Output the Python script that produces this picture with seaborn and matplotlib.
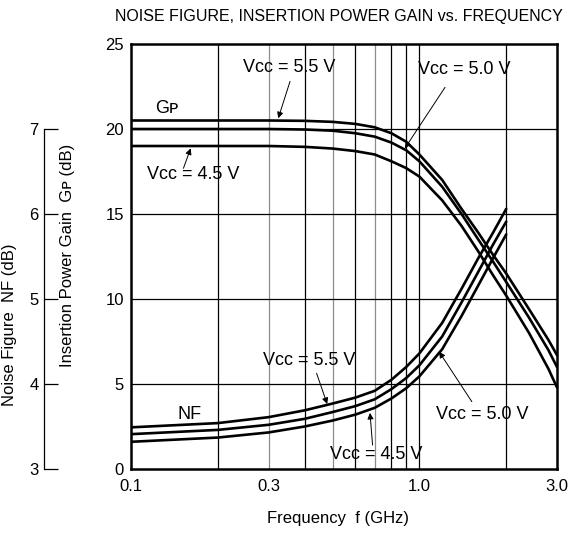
import numpy as np
import pandas as pd
import matplotlib
matplotlib.use("Agg")
import matplotlib.pyplot as plt
import seaborn as sns

# Insertion power gain Gp (dB) vs frequency (GHz)
gain_freq = [0.1, 0.2, 0.3, 0.4, 0.5, 0.6, 0.7, 0.8, 0.9, 1.0, 1.2, 1.4, 1.6, 1.8, 2.0, 2.4, 2.8, 3.0]
gain_55 = [20.5, 20.5, 20.5, 20.48, 20.42, 20.3, 20.1, 19.75, 19.25, 18.5, 17.0, 15.3, 13.9, 12.6, 11.5, 9.4, 7.6, 6.7]
gain_50 = [20.0, 20.0, 20.0, 19.97, 19.9, 19.75, 19.55, 19.2, 18.75, 18.1, 16.6, 15.0, 13.5, 12.2, 11.0, 8.9, 7.0, 6.0]
gain_45 = [19.0, 19.0, 19.0, 18.95, 18.85, 18.7, 18.5, 18.1, 17.7, 17.2, 15.8, 14.3, 12.8, 11.4, 10.2, 8.0, 5.9, 4.8]

# Noise figure NF (dB) vs frequency (GHz)
nf_freq = [0.1, 0.2, 0.3, 0.4, 0.5, 0.6, 0.7, 0.8, 0.9, 1.0, 1.2, 1.4, 1.6, 1.8, 2.0]
nf_55 = [3.49, 3.54, 3.61, 3.69, 3.77, 3.84, 3.92, 4.05, 4.20, 4.36, 4.72, 5.12, 5.48, 5.78, 6.06]
nf_50 = [3.41, 3.46, 3.52, 3.59, 3.67, 3.74, 3.82, 3.94, 4.07, 4.22, 4.56, 4.96, 5.32, 5.64, 5.91]
nf_45 = [3.32, 3.37, 3.43, 3.50, 3.57, 3.64, 3.72, 3.83, 3.95, 4.09, 4.41, 4.80, 5.16, 5.48, 5.76]

x_ticks = [0.1, 0.3, 1.0, 3.0]
x_ticklabels = ["0.1", "0.3", "1.0", "3.0"]
grid_freq = [0.2, 0.3, 0.4, 0.5, 0.6, 0.7, 0.8, 0.9, 1.0, 2.0]
gray_grid = [0.3, 0.5, 0.7]
gain_ticks = [0, 5, 10, 15, 20, 25]
nf_ticks = [3, 4, 5, 6, 7]

gain_df = pd.DataFrame({
    "freq": gain_freq * 3,
    "gain": gain_55 + gain_50 + gain_45,
    "vcc": ["5.5"] * len(gain_freq) + ["5.0"] * len(gain_freq) + ["4.5"] * len(gain_freq),
})
nf_df = pd.DataFrame({
    "freq": nf_freq * 3,
    "nf": nf_55 + nf_50 + nf_45,
    "vcc": ["5.5"] * len(nf_freq) + ["5.0"] * len(nf_freq) + ["4.5"] * len(nf_freq),
})

sns.set_theme(style="white")
plt.rcParams["font.family"] = ["Liberation Sans", "DejaVu Sans"]
plt.rcParams["text.color"] = "black"

fig = plt.figure(figsize=(5.72, 5.35), dpi=100)
ax = fig.add_axes([131 / 572, 66 / 535, 426 / 572, 425 / 535])
ax.set_xscale("log")
ax.set_xlim(0.1, 3.0)
ax.set_ylim(0, 25)

# grid
for f in grid_freq:
    ax.axvline(f, color="0.55" if f in gray_grid else "black", lw=0.9, zorder=1)
for g in gain_ticks[1:-1]:
    ax.axhline(g, color="black", lw=0.9, zorder=1)

sns.lineplot(data=gain_df, x="freq", y="gain", hue="vcc", palette=["black"] * 3,
             legend=False, ax=ax, linewidth=1.9, zorder=3)

ax.set_yticks(gain_ticks)
ax.tick_params(axis="both", length=0, labelsize=12, colors="black")
ax.tick_params(axis="y", pad=5)
ax.tick_params(axis="x", pad=7)
for s in ax.spines.values():
    s.set_linewidth(1.8)
    s.set_color("black")

ax.set_xlabel("Frequency  f (GHz)", fontsize=12, color="black")
ax.xaxis.set_label_coords(0.486, -0.1)
ax.set_ylabel("Insertion Power Gain  Gᴘ (dB)", fontsize=12, color="black")
ax.yaxis.set_label_coords(-0.131, 0.5035)

# noise figure axis on the far left
ax2 = ax.twinx()
ax2.set_ylim(3, 8)
sns.lineplot(data=nf_df, x="freq", y="nf", hue="vcc", palette=["black"] * 3,
             legend=False, ax=ax2, linewidth=1.9)
ax2.yaxis.tick_left()
ax2.yaxis.set_label_position("left")
for name in ["top", "right", "bottom"]:
    ax2.spines[name].set_visible(False)
ax2.spines["left"].set_visible(True)
ax2.spines["left"].set_position(("outward", 62.6))
ax2.spines["left"].set_bounds(3, 7)
ax2.spines["left"].set_color("black")
ax2.spines["left"].set_linewidth(0.9)
ax2.set_yticks(nf_ticks)
ax2.tick_params(axis="y", direction="in", length=10, width=0.9, labelsize=12, pad=4, colors="black")
ax2.set_ylabel("Noise Figure  NF (dB)", fontsize=12, color="black")
ax2.yaxis.set_label_coords(-0.268, 0.339)
ax2.set_xlabel("")

# x ticks set last so the shared log axis keeps them
ax.set_xlim(0.1, 3.0)
ax.xaxis.set_minor_locator(matplotlib.ticker.NullLocator())
ax.xaxis.set_major_locator(matplotlib.ticker.FixedLocator(x_ticks))
ax.xaxis.set_major_formatter(matplotlib.ticker.FixedFormatter(x_ticklabels))

# labels and arrows (gain-axis coordinates)
txt = dict(fontsize=13, ha="center", va="center", color="black")
arr = dict(arrowstyle="-|>", lw=0.7, color="black", mutation_scale=9, shrinkA=0, shrinkB=0)

ax.text(0.353, 23.6, "Vᴄᴄ = 5.5 V", **txt)
ax.annotate("", xy=(0.324, 20.63), xytext=(0.356, 22.8), arrowprops=arr)
ax.text(1.428, 23.5, "Vᴄᴄ = 5.0 V", **txt)
ax.annotate("", xy=(0.89, 18.86), xytext=(1.227, 22.45), arrowprops=arr)
ax.text(0.133, 21.2, "Gᴘ", **txt)
ax.text(0.164, 17.3, "Vᴄᴄ = 4.5 V", **txt)
ax.annotate("", xy=(0.161, 18.86), xytext=(0.152, 17.69), arrowprops=arr)

ax.text(0.159, 3.18, "NF", **txt)
ax.text(0.414, 6.41, "Vᴄᴄ = 5.5 V", **txt)
ax.annotate("", xy=(0.479, 3.82), xytext=(0.440, 5.63), arrowprops=arr)
ax.text(0.711, 0.88, "Vᴄᴄ = 4.5 V", **txt)
ax.annotate("", xy=(0.674, 3.3), xytext=(0.688, 1.41), arrowprops=arr)
ax.text(1.65, 3.18, "Vᴄᴄ = 5.0 V", **txt)
ax.annotate("", xy=(1.17, 6.9), xytext=(1.52, 3.96), arrowprops=arr)

fig.text(339 / 572, 1 - 16.5 / 535, "NOISE FIGURE, INSERTION POWER GAIN vs. FREQUENCY",
         ha="center", va="center", fontsize=11.5, color="black")

fig.savefig("out.png", dpi=100)
